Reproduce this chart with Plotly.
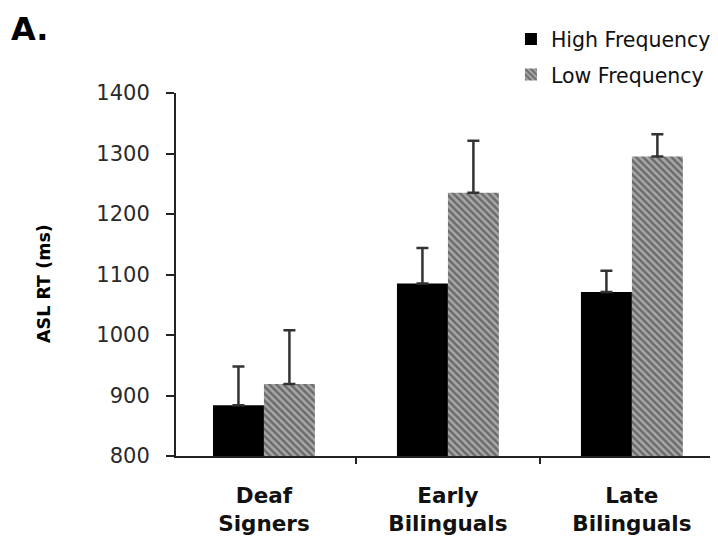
import plotly.graph_objects as go

categories = ["Deaf<br>Signers", "Early<br>Bilinguals", "Late<br>Bilinguals"]
high_freq = [884, 1085, 1071]
high_err = [64, 59, 35]
low_freq = [919, 1235, 1295]
low_err = [89, 86, 37]
y_ticks = [800, 900, 1000, 1100, 1200, 1300, 1400]

font_family = "DejaVu Sans, Verdana, sans-serif"

fig = go.Figure()
fig.add_trace(go.Bar(
    name="High Frequency", x=categories, y=high_freq, legendgroup="hf",
    marker=dict(color="#000000", line=dict(width=0)),
    error_y=dict(type="data", symmetric=False, array=high_err,
                 arrayminus=[0] * len(high_err), color="#333333",
                 thickness=2.5, width=6),
))
fig.add_trace(go.Bar(
    name="Low Frequency", x=categories, y=low_freq, legendgroup="lf",
    marker=dict(color="#9a9a9a", line=dict(width=0),
                pattern=dict(shape="\\", fgcolor="#2e2e2e", bgcolor="#a8a8a8",
                             size=5, solidity=0.5)),
    error_y=dict(type="data", symmetric=False, array=low_err,
                 arrayminus=[0] * len(low_err), color="#333333",
                 thickness=2.5, width=6),
))

fig.update_layout(
    width=710, height=528,
    margin=dict(l=168, r=0, t=85, b=80, autoexpand=False),
    paper_bgcolor="white", plot_bgcolor="white",
    barmode="group", bargap=0.446, bargroupgap=0,
    font=dict(family=font_family, color="#111111"),
    showlegend=True,
    legend=dict(x=0.618, y=1.2035, xanchor="left", yanchor="top",
                font=dict(size=20.5, color="#111111"),
                tracegroupgap=6, itemwidth=30,
                bgcolor="rgba(0,0,0,0)"),
)
fig.add_annotation(text="<b>A.</b>", xref="paper", yref="paper",
                   x=-0.307, y=1.232, xanchor="left", yanchor="top",
                   borderpad=0, showarrow=False,
                   font=dict(size=32, color="#000000"))
fig.add_annotation(text="<b>ASL RT (ms)</b>", xref="paper", yref="paper",
                   x=-0.2435, y=0.474, xanchor="center", yanchor="middle",
                   textangle=-90, showarrow=False,
                   font=dict(size=17.5, color="#000000"))

fig.update_yaxes(
    range=[800, 1400], tickvals=y_ticks, ticktext=[str(v) for v in y_ticks],
    showgrid=False, zeroline=False,
    showline=True, linecolor="#222222", linewidth=2,
    ticks="outside", ticklen=8, tickcolor="#222222", tickwidth=1.5,
    ticklabelstandoff=12,
    tickfont=dict(size=21, color="#2a2a2a"),
)
fig.update_xaxes(
    range=[-0.478, 2.468],
    showgrid=False, showline=True, linecolor="#222222", linewidth=2,
    ticks="outside", tickson="boundaries", ticklen=6, tickcolor="#222222",
    tickwidth=1.5, ticklabelstandoff=19,
    tickfont=dict(size=21.5, color="#111111"),
    tickprefix="<b>", ticksuffix="</b>",
)

fig.write_html("out.html")
